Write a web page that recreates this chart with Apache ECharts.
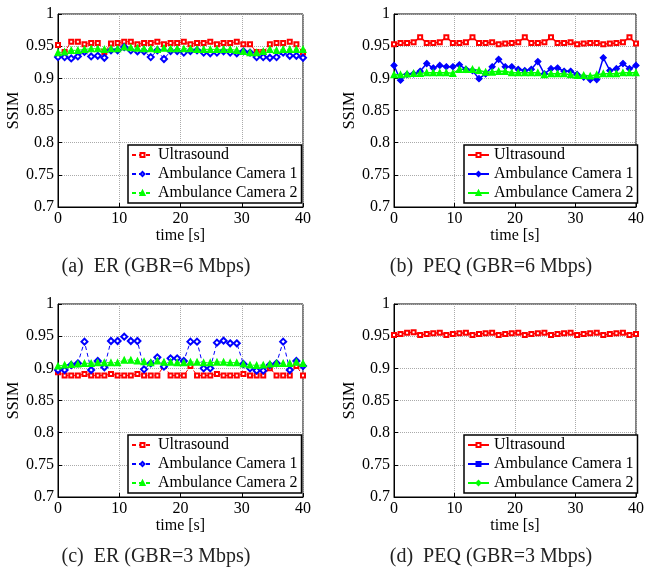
<!DOCTYPE html>
<html>
<head>
<meta charset="utf-8">
<script src="https://cdn.jsdelivr.net/npm/echarts@6/dist/echarts.min.js"></script>
<style>
	html, body { margin: 0; background: #fff; }
	#chart { width: 647px; height: 572px; }
</style>
</head>
<body>
<div id="chart"></div>
<script>
// sample times (s), shared by every curve
const times = [0, 1.08, 2.16, 3.24, 4.32, 5.41, 6.49, 7.57, 8.65, 9.73, 10.81, 11.89, 12.97, 14.05, 15.14, 16.22, 17.3, 18.38, 19.46,
	20.54, 21.62, 22.7, 23.78, 24.86, 25.95, 27.03, 28.11, 29.19, 30.27, 31.35, 32.43, 33.51, 34.59, 35.68, 36.76, 37.84, 38.92, 40];
const names = ['Ultrasound', 'Ambulance Camera 1', 'Ambulance Camera 2'];

// (a) ER, GBR=6 Mbps
const erUs6 = [0.952, 0.941, 0.957, 0.957, 0.953, 0.955, 0.955, 0.941, 0.954, 0.955, 0.957, 0.957, 0.953, 0.955, 0.955, 0.957, 0.953, 0.955, 0.955,
	0.957, 0.953, 0.955, 0.955, 0.957, 0.953, 0.955, 0.955, 0.957, 0.953, 0.953, 0.941, 0.941, 0.953, 0.955, 0.955, 0.957, 0.953, 0.940];
const erCam1_6 = [0.933, 0.933, 0.931, 0.934, 0.941, 0.934, 0.935, 0.932, 0.9435, 0.9435, 0.9487, 0.9435, 0.942, 0.942, 0.933, 0.9435, 0.930, 0.9425, 0.9425,
	0.940, 0.9425, 0.9435, 0.940, 0.939, 0.940, 0.942, 0.940, 0.939, 0.942, 0.940, 0.933, 0.933, 0.932, 0.933, 0.940, 0.935, 0.935, 0.932];
const erCam2_6 = [0.940, 0.941, 0.9435, 0.9435, 0.945, 0.946, 0.946, 0.945, 0.946, 0.946, 0.9487, 0.9477, 0.947, 0.946, 0.946, 0.945, 0.947, 0.946, 0.946,
	0.946, 0.946, 0.945, 0.945, 0.945, 0.945, 0.945, 0.945, 0.9435, 0.942, 0.940, 0.940, 0.942, 0.945, 0.9435, 0.945, 0.945, 0.945, 0.945];

// (b) PEQ, GBR=6 Mbps
const peqUs6 = [0.953, 0.955, 0.955, 0.956, 0.964, 0.955, 0.955, 0.956, 0.964, 0.955, 0.955, 0.956, 0.964, 0.955, 0.955, 0.956, 0.953, 0.954, 0.955,
	0.956, 0.964, 0.955, 0.955, 0.956, 0.964, 0.955, 0.955, 0.956, 0.953, 0.954, 0.955, 0.955, 0.953, 0.954, 0.955, 0.956, 0.964, 0.954];
const peqCam1_6 = [0.920, 0.897, 0.906, 0.907, 0.911, 0.923, 0.916, 0.920, 0.918, 0.918, 0.921, 0.914, 0.912, 0.8995, 0.907, 0.918, 0.9295, 0.918, 0.918,
	0.914, 0.912, 0.914, 0.926, 0.907, 0.915, 0.916, 0.911, 0.911, 0.906, 0.902, 0.898, 0.898, 0.932, 0.912, 0.915, 0.923, 0.915, 0.920];
const peqCam2_6 = [0.9057, 0.9057, 0.9067, 0.9078, 0.9078, 0.9088, 0.9088, 0.9088, 0.9088, 0.9078, 0.914, 0.914, 0.914, 0.9124, 0.9098, 0.9098, 0.9109, 0.9109, 0.9088,
	0.9088, 0.9088, 0.9088, 0.9088, 0.9057, 0.9073, 0.9073, 0.9073, 0.9057, 0.9047, 0.9047, 0.9036, 0.9057, 0.9073, 0.9073, 0.9073, 0.9088, 0.9088, 0.9088];

// (c) ER, GBR=3 Mbps
const erUs3 = [0.894, 0.889, 0.889, 0.889, 0.891, 0.889, 0.889, 0.889, 0.891, 0.889, 0.889, 0.889, 0.891, 0.889, 0.889, 0.889, 0.9036, 0.889, 0.889,
	0.889, 0.9036, 0.889, 0.889, 0.889, 0.891, 0.889, 0.889, 0.889, 0.891, 0.889, 0.889, 0.889, 0.900, 0.889, 0.889, 0.889, 0.9036, 0.889];
const erCam1_3 = [0.8974, 0.8974, 0.9052, 0.9078, 0.9415, 0.8974, 0.9114, 0.9016, 0.9425, 0.9425, 0.9492, 0.9425, 0.9425, 0.8984, 0.9078, 0.9171, 0.9026, 0.9155, 0.9155,
	0.9114, 0.9415, 0.9415, 0.900, 0.900, 0.9399, 0.943, 0.9389, 0.9389, 0.9067, 0.900, 0.8964, 0.8964, 0.9052, 0.9078, 0.9415, 0.8974, 0.9114, 0.9036];
const erCam2_3 = [0.9036, 0.9052, 0.9062, 0.9067, 0.9078, 0.9078, 0.9088, 0.9088, 0.9088, 0.9088, 0.9129, 0.9129, 0.9114, 0.9104, 0.9088, 0.9114, 0.9098, 0.9098, 0.9088,
	0.9088, 0.9098, 0.9098, 0.9088, 0.9088, 0.9098, 0.9098, 0.9088, 0.9088, 0.9067, 0.9052, 0.9047, 0.9052, 0.9067, 0.9078, 0.9078, 0.9078, 0.9098, 0.9078];

// (d) PEQ, GBR=3 Mbps (camera curves are not visible in the plot)
const peqUs3 = [0.9518, 0.9534, 0.9554, 0.956, 0.9518, 0.9534, 0.9544, 0.9554, 0.9518, 0.9534, 0.9544, 0.9554, 0.9518, 0.9534, 0.9544, 0.9554, 0.9518, 0.9534, 0.9544,
	0.9554, 0.9518, 0.9534, 0.9544, 0.9554, 0.9518, 0.9534, 0.9544, 0.9554, 0.9518, 0.9534, 0.9544, 0.9554, 0.9518, 0.9534, 0.9544, 0.9554, 0.9518, 0.9534];
const peqCam1_3 = [];
const peqCam2_3 = [];

const colors = ['#ff0000', '#0000ff', '#00ff00'];
const font = 'Liberation Serif';

const panels = [
	{ id: 'a', left: 58, top: 14, capX: 156, capY: 267, caption: '(a)  ER (GBR=6 Mbps)', dashed: true,
		symbols: ['emptyRect', 'emptyDiamond', 'triangle'], data: [erUs6, erCam1_6, erCam2_6] },
	{ id: 'b', left: 394, top: 14, capX: 491, capY: 267, caption: '(b)  PEQ (GBR=6 Mbps)', dashed: false,
		symbols: ['emptyRect', 'diamond', 'triangle'], data: [peqUs6, peqCam1_6, peqCam2_6] },
	{ id: 'c', left: 58, top: 304, capX: 156, capY: 557, caption: '(c)  ER (GBR=3 Mbps)', dashed: true,
		symbols: ['emptyRect', 'emptyDiamond', 'triangle'], data: [erUs3, erCam1_3, erCam2_3] },
	{ id: 'd', left: 394, top: 304, capX: 491, capY: 557, caption: '(d)  PEQ (GBR=3 Mbps)', dashed: false,
		symbols: ['emptyRect', 'rect', 'diamond'], data: [peqUs3, peqCam1_3, peqCam2_3] }
];

const symbolSizes = { emptyRect: 4, rect: 4, emptyDiamond: 6, diamond: 6, triangle: 6 };

function pairs(ys) {
	return ys.map((y, i) => [times[i], y]);
}

let myChart = echarts.init(document.getElementById('chart'), null, { renderer: 'canvas' });

let grid = [], xAxis = [], yAxis = [], series = [], legend = [], graphic = [];

panels.forEach((p, i) => {
	grid.push({
		left: p.left, top: p.top, width: 245, height: 193,
		show: true, borderColor: '#000', borderWidth: 1
	});
	xAxis.push({
		type: 'value', gridIndex: i, min: 0, max: 40, interval: 10,
		name: 'time [s]', nameLocation: 'middle', nameGap: 19,
		nameTextStyle: { color: '#000', fontFamily: font, fontSize: 16 },
		axisLine: { lineStyle: { color: '#000', width: 1 } },
		axisTick: { inside: true, length: 4, lineStyle: { color: '#000' } },
		axisLabel: { color: '#000', fontFamily: font, fontSize: 16, margin: 4 },
		splitLine: { show: true, lineStyle: { color: '#aaa', type: 'dotted' } }
	});
	yAxis.push({
		type: 'value', gridIndex: i, min: 0.7, max: 1, interval: 0.05,
		name: 'SSIM', nameLocation: 'middle', nameGap: 36,
		nameTextStyle: { color: '#000', fontFamily: font, fontSize: 16 },
		axisLine: { lineStyle: { color: '#000', width: 1 } },
		axisTick: { inside: true, length: 4, lineStyle: { color: '#000' } },
		axisLabel: { color: '#000', fontFamily: font, fontSize: 16, margin: 4 },
		splitLine: { show: true, lineStyle: { color: '#aaa', type: 'dotted' } }
	});
	names.forEach((n, k) => {
		series.push({
			name: p.id + '|' + n,
			type: 'line',
			xAxisIndex: i,
			yAxisIndex: i,
			data: pairs(p.data[k]),
			symbol: p.symbols[k],
			symbolSize: symbolSizes[p.symbols[k]],
			showAllSymbol: true,
			animation: false,
			lineStyle: { color: colors[k], width: p.dashed ? 1 : 1.5, type: p.dashed ? [4, 3] : 'solid' },
			itemStyle: { color: colors[k], borderColor: colors[k], borderWidth: 1.2 }
		});
	});
	legend.push({
		left: p.left + 70, top: p.top + 131,
		orient: 'vertical',
		data: names.map(n => p.id + '|' + n),
		formatter: name => name.split('|')[1],
		itemWidth: 21, itemHeight: 5, itemGap: 3,
		padding: [2, 4, 2, 3],
		borderColor: '#000', borderWidth: 1.5,
		backgroundColor: '#fff',
		selectedMode: false,
		textStyle: { color: '#000', fontFamily: font, fontSize: 16 }
	});
	graphic.push({
		type: 'text', x: p.capX, y: p.capY,
		style: { text: p.caption, fill: '#222', font: '20px "Liberation Serif"', align: 'center', verticalAlign: 'middle' }
	});
});

option = {
	backgroundColor: '#fff',
	animation: false,
	grid: grid,
	xAxis: xAxis,
	yAxis: yAxis,
	legend: legend,
	series: series,
	graphic: graphic
};

myChart.setOption(option);
window.addEventListener('resize', function() {
	myChart.resize();
})
</script>
</body>
</html>
